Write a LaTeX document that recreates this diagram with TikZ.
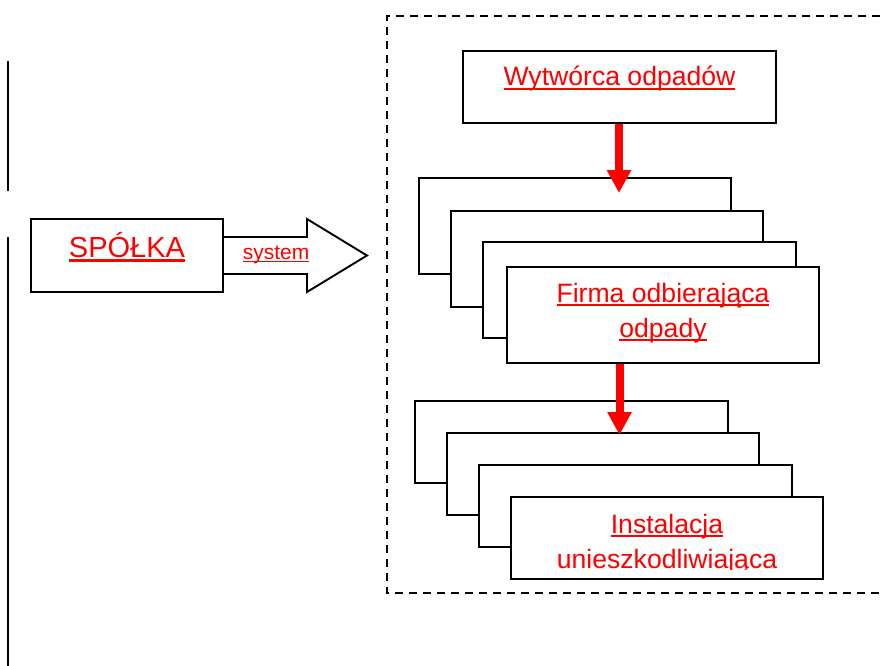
\documentclass[tikz,border=0pt]{standalone}
\usepackage{fontspec}
\setmainfont{Liberation Sans}
\usetikzlibrary{arrows.meta}
\newcommand\myul[1]{\setbox0\hbox{#1}\rlap{\rule[-0.16em]{\wd0}{0.075em}}\box0}
\tikzset{
  card/.style={draw, line width=1.9pt, fill=white, rectangle, inner sep=0pt, minimum width=#1},
  card/.default=312pt,
  lbl/.style={text=red, anchor=base, inner sep=0pt, font=\fontsize{26.6pt}{34pt}\selectfont},
  redarrow/.style={draw=red, line width=8pt, -{Triangle[width=23pt,length=23pt]}},
}
\begin{document}
\begin{tikzpicture}[x=1pt,y=-1pt]
\useasboundingbox (0,0) rectangle (880,666);
% left vertical lines
\draw[line width=2.2pt] (8,61) -- (8,191);
\draw[line width=2.2pt] (8,237) -- (8,666);
% dashed frame
\draw[line width=1.8pt, dash pattern=on 8pt off 6pt] (880,16) -- (387,16) -- (387,593) -- (880,593);
% SPOLKA box and system arrow
\node[card=192pt, minimum height=73pt] (sp) at (127,255.5) {};
\node[lbl, font=\fontsize{29pt}{35pt}\selectfont] (sptxt) at (127,257) {\myul{SPÓŁKA}};
\draw[line width=1.9pt, line join=miter] (sp.east |- 0,237) -- (307,237) -- (307,219) -- (367,255.5) -- (307,292) -- (307,274) -- (sp.east |- 0,274);
\node[lbl, font=\fontsize{21pt}{26pt}\selectfont] (sys) at (276,259) {\myul{system}};
% producer
\node[card=313pt, minimum height=72pt] (wyt) at (619.5,87) {};
\node[lbl] (wyttxt) at (619.5,86) {\myul{Wytwórca odpadów}};
% stack 1
\node[card, minimum height=96pt] (fA) at (575,226) {};
\node[card, minimum height=96pt] (fB) at (607,259) {};
\node[card=313pt, minimum height=96pt] (fC) at (639.5,290) {};
\node[card, minimum height=96pt] (fD) at (663,315) {};
\node[lbl] (f1) at (663,302) {\myul{Firma odbierająca}};
\node[lbl] (f2) at (663,337) {\myul{odpady}};
% stack 2
\node[card=313pt, minimum height=82pt] (iA) at (571.5,442) {};
\node[card, minimum height=82pt] (iB) at (603,474) {};
\node[card=313pt, minimum height=82pt] (iC) at (635.5,506) {};
\node[card, minimum height=82pt] (iD) at (667,538) {};
\node[lbl] (i1) at (667,533) {\myul{Instalacja}};
\begin{scope}
\clip (512,498) rectangle (822,569);
\node[lbl] (i2) at (667,568) {unieszkodliwiająca};
\end{scope}
% red arrows
\coordinate (t1) at (619,193);
\coordinate (t2) at (619.5,435);
\draw[redarrow] (t1 |- wyt.south) -- (t1);
\draw[redarrow] (t2 |- fD.south) -- (t2);
\end{tikzpicture}
\end{document}
